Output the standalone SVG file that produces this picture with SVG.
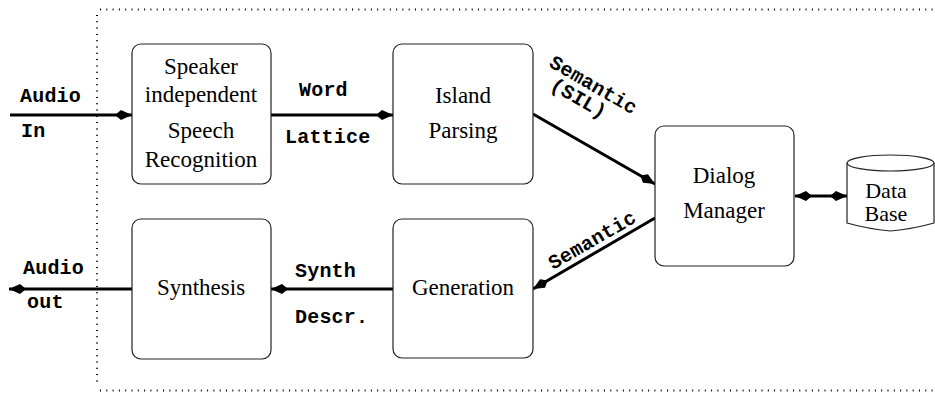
<svg xmlns="http://www.w3.org/2000/svg" width="935" height="395" viewBox="0 0 935 395">
<defs>
<style>
.box{fill:#fff;stroke:#222;stroke-width:1.2}
.node{font-family:"Liberation Serif","Times New Roman",serif;font-size:23px;fill:#000;text-anchor:middle}
.db{font-size:22px}
.lbl{font-family:"Liberation Mono","Courier New",monospace;font-size:20px;font-weight:bold;fill:#000;letter-spacing:0.2px}
.conn{stroke:#000;stroke-width:3;fill:none}
.dotH{stroke:#000;stroke-width:2;stroke-dasharray:1 5.3;fill:none}
</style>
<marker id="ah" viewBox="-18 -6 19 12" refX="0" refY="0" markerWidth="19" markerHeight="12" markerUnits="userSpaceOnUse" orient="auto">
<path d="M0,0 L-11,-5 L-17,0 L-11,5 Z" fill="#000"/>
</marker>
<marker id="ahs" viewBox="-18 -6 19 12" refX="0" refY="0" markerWidth="19" markerHeight="12" markerUnits="userSpaceOnUse" orient="auto-start-reverse">
<path d="M0,0 L-11,-5 L-17,0 L-11,5 Z" fill="#000"/>
</marker>
</defs>
<rect width="935" height="395" fill="#fff"/>

<g id="frame">
<line class="dotH" x1="100" y1="9.5" x2="935" y2="9.5"/>
<line class="dotH" x1="97" y1="15" x2="97" y2="386"/>
<line class="dotH" x1="100" y1="390.5" x2="935" y2="390.5"/>
</g>

<g id="connectors">
<line class="conn" x1="10" y1="115" x2="132" y2="115" marker-end="url(#ah)"/>
<line class="conn" x1="271" y1="115" x2="393" y2="115" marker-end="url(#ah)"/>
<line class="conn" x1="533" y1="114" x2="655" y2="184" marker-end="url(#ah)"/>
<line class="conn" x1="655" y1="218" x2="533" y2="289" marker-end="url(#ah)"/>
<line class="conn" x1="393" y1="289" x2="271" y2="289" marker-end="url(#ah)"/>
<line class="conn" x1="132" y1="289" x2="9" y2="289" marker-end="url(#ah)"/>
<line class="conn" x1="795" y1="196" x2="847" y2="196" marker-start="url(#ahs)" marker-end="url(#ah)"/>
</g>

<g id="labels">
<text class="lbl" x="20" y="102">Audio</text>
<text class="lbl" x="21" y="137">In</text>
<text class="lbl" x="299" y="96">Word</text>
<text class="lbl" x="285" y="143">Lattice</text>
<text class="lbl" transform="translate(548,66) rotate(30)">Semantic</text>
<text class="lbl" transform="translate(549,88.5) rotate(30)">(SIL)</text>
<text class="lbl" transform="translate(553,270) rotate(-30)">Semantic</text>
<text class="lbl" x="295" y="277">Synth</text>
<text class="lbl" x="295" y="323">Descr.</text>
<text class="lbl" x="23" y="274">Audio</text>
<text class="lbl" x="27" y="308">out</text>
</g>

<g id="speech-recognition">
<rect class="box" x="132" y="44" width="139" height="140" rx="9"/>
<text class="node" x="201" y="74">Speaker</text>
<text class="node" x="201" y="102">independent</text>
<text class="node" x="201" y="138">Speech</text>
<text class="node" x="201" y="167">Recognition</text>
</g>

<g id="island-parsing">
<rect class="box" x="393" y="44" width="140" height="140" rx="9"/>
<text class="node" x="463" y="103">Island</text>
<text class="node" x="463" y="138">Parsing</text>
</g>

<g id="dialog-manager">
<rect class="box" x="655" y="126" width="139" height="140" rx="9"/>
<text class="node" x="724" y="183">Dialog</text>
<text class="node" x="724" y="218">Manager</text>
</g>

<g id="synthesis">
<rect class="box" x="132" y="219" width="139" height="140" rx="9"/>
<text class="node" x="201" y="295">Synthesis</text>
</g>

<g id="generation">
<rect class="box" x="393" y="219" width="140" height="139" rx="9"/>
<text class="node" x="463" y="295">Generation</text>
</g>

<g id="database">
<path class="box" d="M847,163 L847,223 Q868,229 890.5,231 Q913,229 934,223 L934,163"/>
<ellipse class="box" cx="890.5" cy="163" rx="43.5" ry="8"/>
<text class="node db" x="886" y="198">Data</text>
<text class="node db" x="886" y="221">Base</text>
</g>
</svg>
